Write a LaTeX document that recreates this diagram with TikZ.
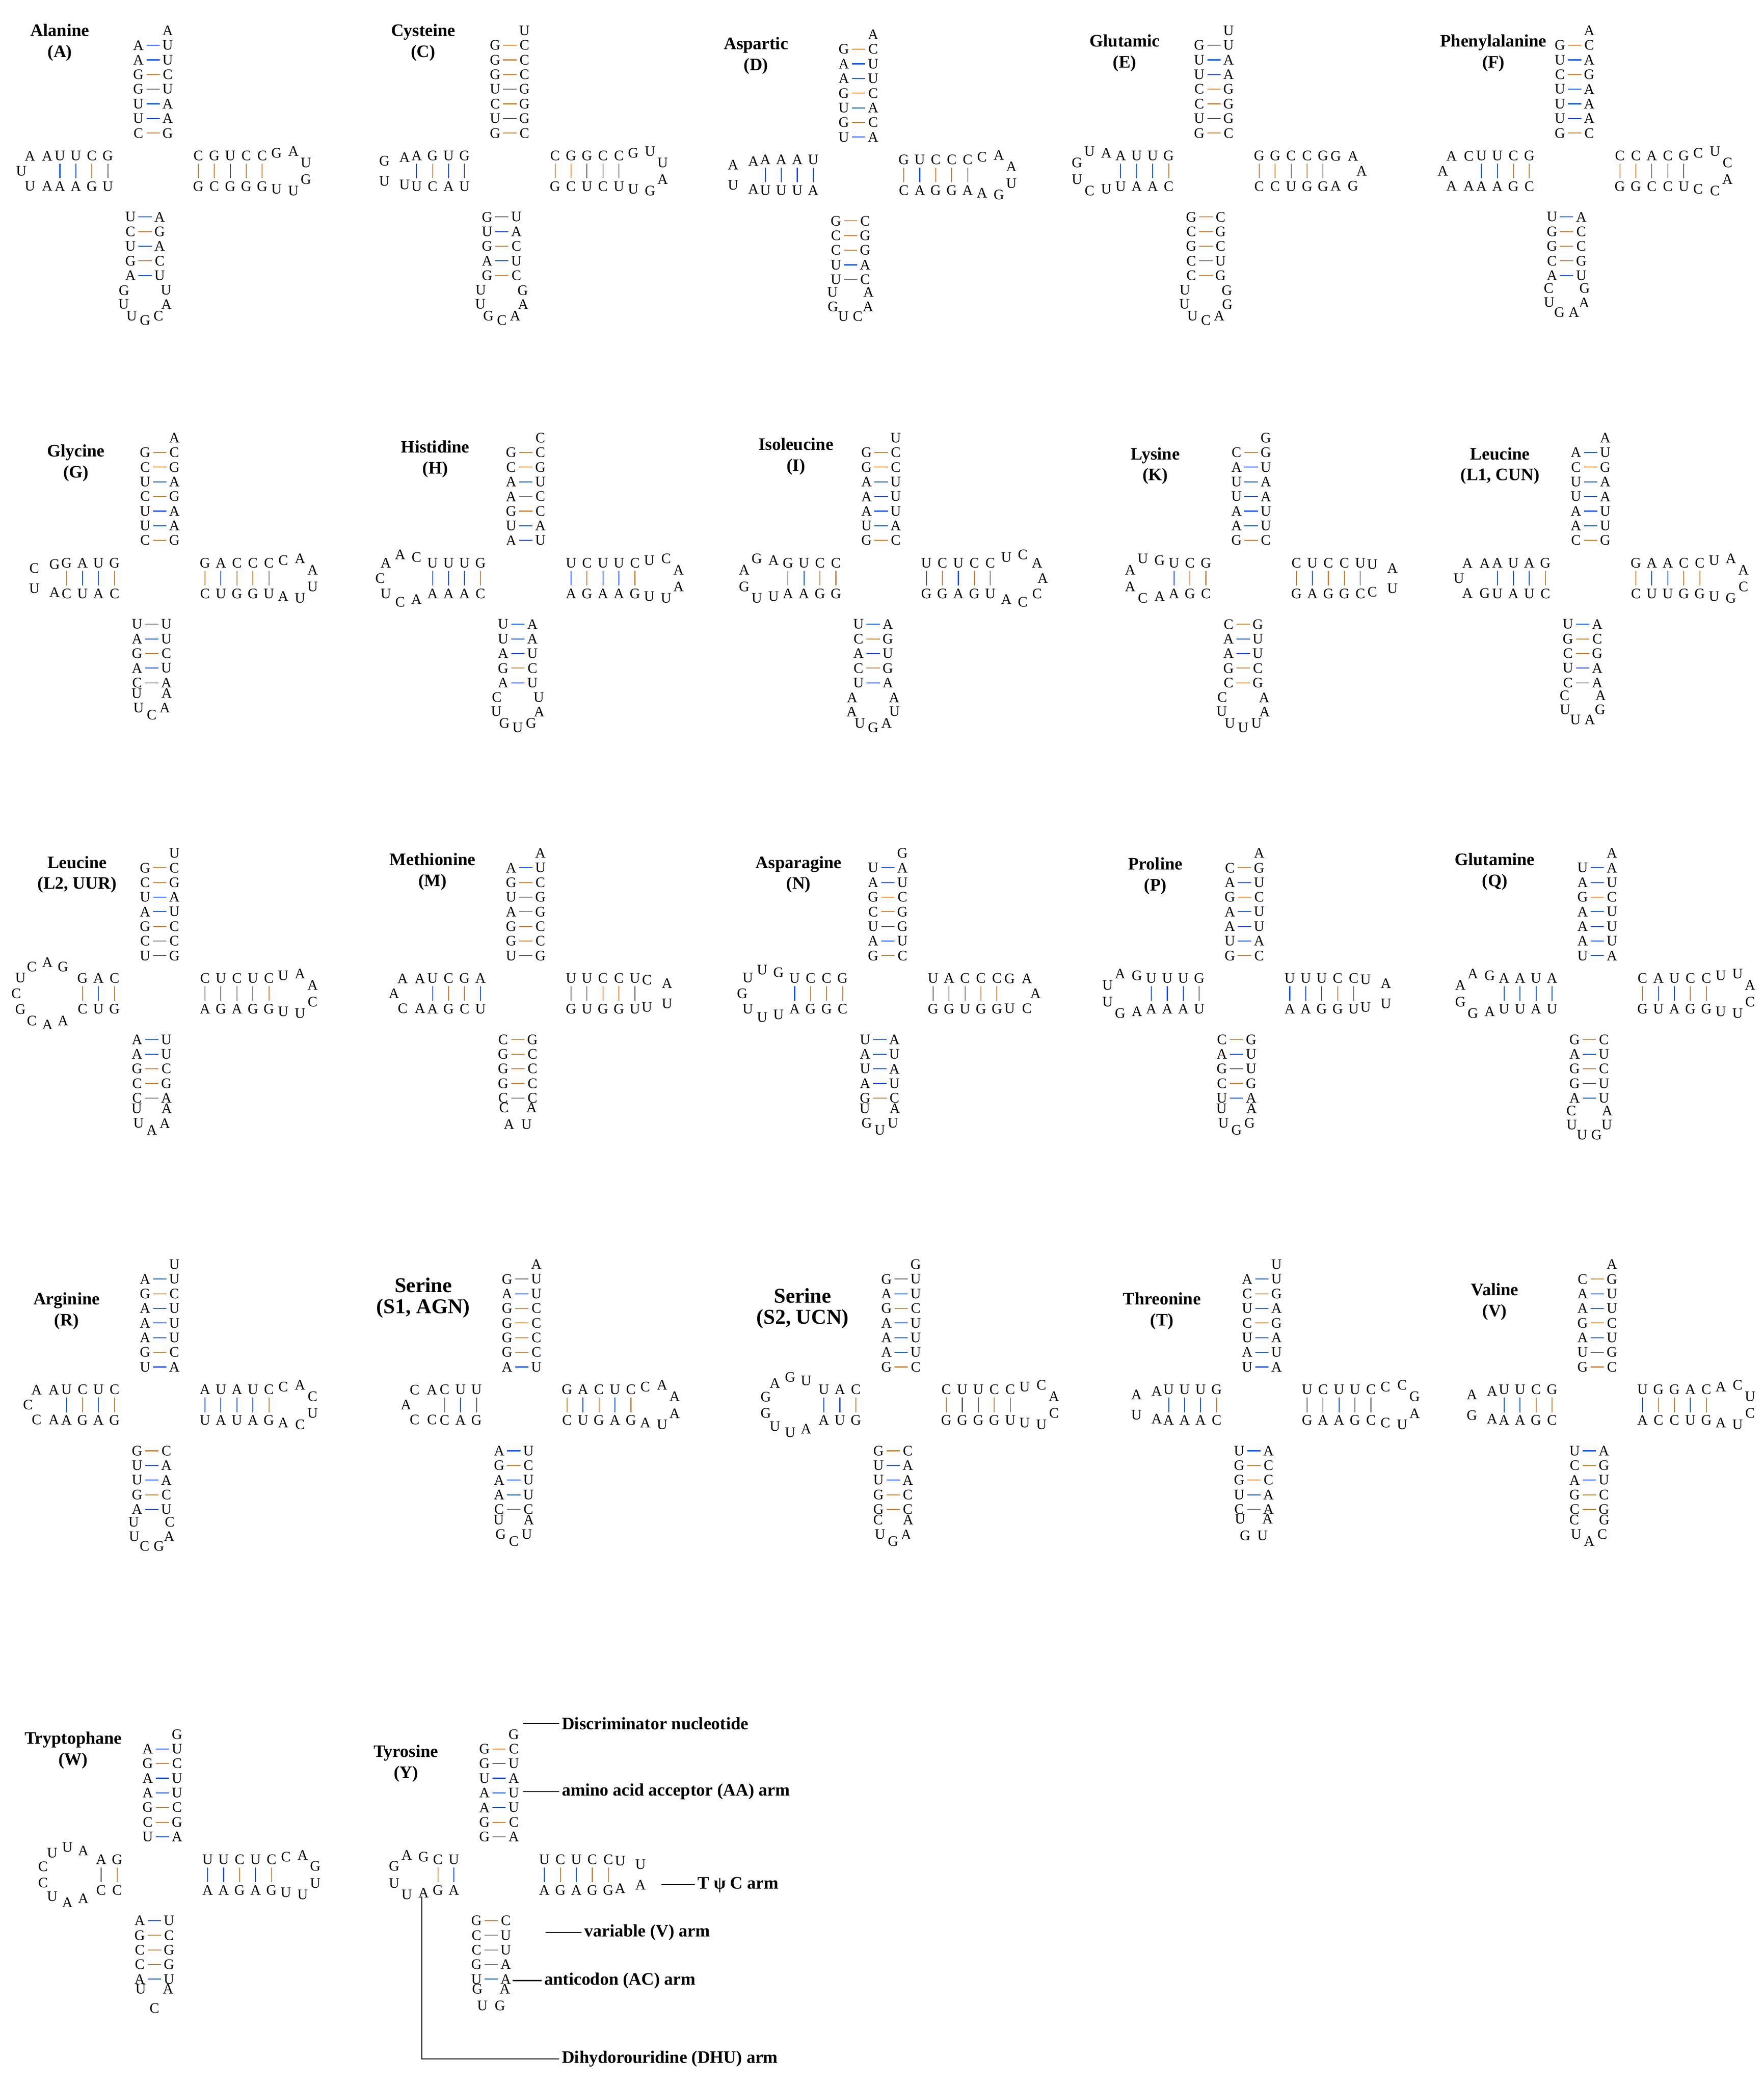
\documentclass[tikz,border=0pt]{standalone}
\usepackage{fontspec}
\setmainfont{Liberation Serif}
\usetikzlibrary{positioning}

\tikzset{
  pAA/.style={draw=gray}, pAC/.style={draw=gray}, pAG/.style={draw=gray}, pAU/.style={draw=blue!70!cyan},
  pCA/.style={draw=gray}, pCC/.style={draw=gray}, pCG/.style={draw=brown!80!orange}, pCU/.style={draw=gray},
  pGA/.style={draw=gray}, pGC/.style={draw=brown!80!orange}, pGG/.style={draw=gray}, pGU/.style={draw=gray!70!black},
  pUA/.style={draw=blue!70!cyan}, pUC/.style={draw=gray}, pUG/.style={draw=gray!70!black}, pUU/.style={draw=gray}
}

% #1 junction, #2 discriminator, #3 acceptor pairs, #4 D stem, #5 D loop,
% #6 anticodon stem, #7 anticodon loop, #8 T stem, #9 T loop
\newcommand\trna[9]{%
\begin{scope}[shift={#1}]
  \node[nt] at (11,-89) {#2};
  % acceptor arm
  \foreach \lt/\rt [count=\k] in {#3} {
    \pgfmathsetmacro\yy{-12-11*(7-\k)}
    \node[nt] at (-11,\yy) {\lt};
    \node[nt] at (11,\yy) {\rt};
    \draw[bp,p\lt\rt] (-5,\yy) -- (5,\yy);
  }
  % D arm
  \foreach \lt/\rt [count=\j] in {#4} {
    \node[nt] at (-22-12*\j,5) {\lt};
    \node[nt] at (-22-12*\j,28) {\rt};
    \draw[bp,p\lt\rt] (-22-12*\j,11) -- (-22-12*\j,22);
    \xdef\nD{\j}
  }
  \foreach \c [count=\k] in {#5} {\xdef\nL{\k}}
  \pgfmathsetmacro\rr{max(12,2.6*\nL)}
  \foreach \c [count=\k] in {#5} {
    \pgfmathsetmacro\a{-60-240*(\k-1)/(\nL-1)}
    \path (-22-12*\nD-\rr-3,16.5) ++(\a:\rr) node[nt] {\c};
  }
  % anticodon arm
  \foreach \lt/\rt [count=\j] in {#6} {
    \pgfmathsetmacro\yy{51+11*(\j-1)}
    \node[nt] at (-17,\yy) {\lt};
    \node[nt] at (5,\yy) {\rt};
    \draw[bp,p\lt\rt] (-11,\yy) -- (-1,\yy);
    \xdef\nA{\j}
  }
  \foreach \c [count=\k] in {#7} {\xdef\nL{\k}}
  \pgfmathsetmacro\rr{max(11,2.4*\nL)}
  \foreach \c [count=\k] in {#7} {
    \pgfmathsetmacro\a{200-220*(\k-1)/(\nL-1)}
    \path (-6,40+11*\nA+\rr) ++(\a:\rr) node[nt] {\c};
  }
  % T arm
  \foreach \lt/\rt [count=\j] in {#8} {
    \node[nt] at (22+12*\j,5) {\lt};
    \node[nt] at (22+12*\j,28) {\rt};
    \draw[bp,p\lt\rt] (22+12*\j,11) -- (22+12*\j,22);
    \xdef\nT{\j}
  }
  \foreach \c [count=\k] in {#9} {\xdef\nL{\k}}
  \pgfmathsetmacro\rr{max(12,2.6*\nL)}
  \foreach \c [count=\k] in {#9} {
    \pgfmathsetmacro\a{-120+240*(\k-1)/(\nL-1)}
    \path (22+12*\nT+\rr+3,16.5) ++(\a:\rr) node[nt] {\c};
  }
\end{scope}}

\begin{document}
\begin{tikzpicture}[x=0.02cm,y=-0.02cm,
  nt/.style={font=\fontsize{6.2}{6}\selectfont,inner sep=0pt},
  ttl/.style={font=\bfseries\fontsize{7.5}{9}\selectfont,align=center},
  lbl/.style={font=\bfseries\fontsize{7.5}{9}\selectfont,anchor=west,inner sep=1pt},
  bp/.style={line width=0.4pt}]
\useasboundingbox (0,0) rectangle (1325,1568);

% titles
\node[ttl] (ala) at (45,32) {Alanine\\(A)};
\node[ttl] (cys) at (318,32) {Cysteine\\(C)};
\node[ttl] (asp) at (568,42) {Aspartic\\(D)};
\node[ttl] (glu) at (845,40) {Glutamic\\(E)};
\node[ttl] (phe) at (1122,40) {Phenylalanine\\(F)};
\node[ttl] (gly) at (57,348) {Glycine\\(G)};
\node[ttl] (his) at (327,345) {Histidine\\(H)};
\node[ttl] (ile) at (598,343) {Isoleucine\\(I)};
\node[ttl] (lys) at (868,350) {Lysine\\(K)};
\node[ttl] (leu1) at (1127,350) {Leucine\\(L1, CUN)};
\node[ttl] (leu2) at (58,657) {Leucine\\(L2, UUR)};
\node[ttl] (met) at (325,655) {Methionine\\(M)};
\node[ttl] (asn) at (600,657) {Asparagine\\(N)};
\node[ttl] (pro) at (868,658) {Proline\\(P)};
\node[ttl] (gln) at (1123,655) {Glutamine\\(Q)};
\node[ttl] (arg) at (50,985) {Arginine\\(R)};
\node[ttl] (ser1) at (318,975) {\fontsize{9}{11}\selectfont Serine\\\fontsize{9}{11}\selectfont (S1, AGN)};
\node[ttl] (ser2) at (603,983) {\fontsize{9}{11}\selectfont Serine\\\fontsize{9}{11}\selectfont (S2, UCN)};
\node[ttl] (thr) at (873,985) {Threonine\\(T)};
\node[ttl] (val) at (1123,978) {Valine\\(V)};
\node[ttl] (trp) at (55,1315) {Tryptophane\\(W)};
\node[ttl] (tyr) at (305,1325) {Tyrosine\\(Y)};

% row 1
\trna{(115,112)}{A}{A/U,A/U,G/C,G/U,U/A,U/A,C/G}{G/U,C/G,U/A,U/A}{A,A,U,U,A}{U/A,C/G,U/A,G/C,A/U}{G,U,U,G,C,A,U}{C/G,G/C,U/G,C/G,C/G}{G,A,U,G,U,U}
\trna{(383,112)}{U}{G/C,G/C,G/C,U/G,C/G,U/G,G/C}{G/U,U/A,G/C,A/U}{A,G,U,U}{G/U,U/A,G/C,A/U,G/C}{U,U,G,C,A,A,G}{C/G,G/C,G/U,C/C,C/U}{G,U,U,A,G,U}
\trna{(645,115)}{A}{G/C,A/U,A/U,G/C,U/A,G/C,U/A}{U/A,A/U,A/U,A/U}{A,A,U,A}{G/C,C/G,C/G,U/A,U/C}{U,G,U,C,A,A}{G/C,U/A,C/G,C/G,C/A}{C,A,A,U,G,A}
\trna{(912,112)}{U}{G/U,U/A,U/A,C/G,C/G,U/G,G/C}{G/C,U/A,U/A,A/U}{A,U,G,U,C,U}{G/C,C/G,G/C,C/U,C/G}{U,U,U,C,A,G,G}{G/C,G/C,C/U,C/G,G/G}{G,A,A,G,A}
\trna{(1183,112)}{A}{G/C,U/A,C/G,U/A,U/A,U/A,G/C}{G/C,C/G,U/A,U/A}{C,A,A,A,A}{U/A,G/C,G/C,C/G,A/U}{C,U,G,A,A,G}{C/G,C/G,A/C,C/C,G/U}{C,U,C,A,C,C}
% row 2
\trna{(120,418)}{A}{G/C,C/G,U/A,C/G,U/A,U/A,C/G}{G/C,U/A,A/U,G/C}{G,C,U,A}{U/U,A/U,G/C,A/U,C/A}{U,U,C,A,A}{G/C,A/U,C/G,C/G,C/U}{C,A,A,U,U,A}
\trna{(395,418)}{C}{G/C,C/G,A/U,A/C,G/C,U/A,A/U}{G/C,U/A,U/A,U/A}{C,A,A,C,U,C,A}{U/A,U/A,A/U,G/C,A/U}{C,U,G,U,G,A,U}{U/A,C/G,U/A,U/A,C/G}{U,C,A,A,U,U}
\trna{(662,418)}{U}{G/C,G/C,A/U,A/U,A/U,U/A,G/C}{C/G,C/G,U/A,G/A}{A,G,A,G,U,U}{U/A,C/G,A/U,C/G,U/A}{A,A,U,G,A,U,A}{U/G,C/G,U/A,C/G,C/U}{U,C,A,A,C,C,A}
\trna{(940,418)}{G}{C/G,A/U,U/A,U/A,A/U,A/U,G/C}{G/C,C/G,U/A}{G,U,A,A,C,A}{C/G,A/U,A/U,G/C,C/G}{C,U,U,U,U,A,A}{C/G,U/A,C/G,C/G,U/C}{U,A,U,C}
\trna{(1195,418)}{A}{A/U,C/G,U/A,U/A,A/U,A/U,C/G}{G/C,A/U,U/A,A/U}{A,A,U,A,G}{U/A,G/C,C/G,U/A,C/A}{C,U,U,A,G,A}{G/C,A/U,A/U,C/G,C/G}{U,A,A,C,G,U}
% row 3
\trna{(120,730)}{U}{G/C,C/G,U/A,A/U,G/C,C/C,U/G}{C/G,A/U,G/C}{G,A,C,U,C,G,C,A,A}{A/U,A/U,G/C,C/G,C/A}{U,U,A,A,A}{C/A,U/G,C/A,U/G,C/G}{U,A,A,C,U,U}
\trna{(395,730)}{A}{A/U,G/C,U/G,A/G,G/C,G/C,U/G}{A/U,G/C,C/G,U/A}{A,A,A,C,A}{C/G,G/C,G/C,G/C,C/C}{C,A,U,A}{U/G,U/U,C/G,C/G,U/U}{C,A,U,U}
\trna{(667,730)}{G}{U/A,A/U,G/C,C/G,U/G,A/U,G/C}{G/C,C/G,C/G,U/A}{G,U,U,G,U,U,U}{U/A,A/U,U/A,A/U,G/C}{U,G,U,U,A}{U/G,A/G,C/U,C/G,C/G}{G,A,A,C,U}
\trna{(935,730)}{A}{C/G,A/U,G/C,A/U,A/U,U/A,G/C}{G/U,U/A,U/A,U/A}{G,A,U,U,G,A}{C/G,A/U,G/U,C/G,U/A}{U,U,G,G,A}{U/A,U/A,U/G,C/G,C/U}{U,A,U,U}
\trna{(1200,730)}{A}{U/A,A/U,G/C,A/U,A/U,A/U,U/A}{A/U,U/A,A/U,A/U}{G,A,A,G,G,A}{G/C,A/U,G/C,G/U,A/U}{C,U,U,G,U,A}{C/G,A/U,U/A,C/G,C/G}{U,U,A,C,U,U}
% row 4
\trna{(120,1039)}{U}{A/U,G/C,A/U,A/U,A/U,G/C,U/A}{C/G,U/A,C/G,U/A}{A,A,C,C,A}{G/C,U/A,U/A,G/C,A/U}{U,U,C,G,A,C}{A/U,U/A,A/U,U/A,C/G}{C,A,C,U,C,A}
\trna{(392,1039)}{A}{G/U,A/U,G/C,G/C,G/C,G/C,A/U}{U/G,U/A,C/C}{A,C,A,C,C}{A/U,G/C,A/U,A/U,C/C}{U,G,C,U,A}{G/C,A/U,C/G,U/A,C/G}{C,A,A,A,U,A}
\trna{(677,1039)}{G}{G/U,A/U,G/C,A/U,A/U,A/U,G/C}{C/G,A/U,U/A}{U,G,A,G,G,U,U,A}{G/C,U/A,U/A,G/C,G/C}{C,U,G,A,A}{C/G,U/G,U/G,C/G,C/U}{U,C,A,C,U,U}
\trna{(948,1039)}{U}{A/U,C/G,U/A,C/G,U/A,A/U,U/A}{G/C,U/A,U/A,U/A}{A,A,U,A}{U/A,G/C,G/C,U/A,C/A}{U,G,U,A}{U/G,C/A,U/A,U/G,C/C}{C,C,G,A,U,C}
\trna{(1200,1039)}{A}{C/G,A/U,A/U,G/C,A/U,U/G,G/C}{G/C,C/G,U/A,U/A}{A,A,G,A}{U/A,C/G,A/U,G/C,C/G}{C,U,A,C,G}{U/A,G/C,G/C,A/U,C/G}{A,C,U,C,U,A}
% row 5
\trna{(122,1392)}{G}{A/U,G/C,A/U,A/U,G/C,C/G,U/A}{G/C,A/C}{A,U,U,C,C,U,A,A}{A/U,G/C,C/G,C/G,A/U}{U,C,A}{U/A,U/A,C/G,U/A,C/G}{C,A,G,U,U,U}
\trna{(375,1392)}{G}{G/C,G/U,U/A,A/U,A/U,G/C,G/A}{U/A,C/G}{G,A,G,U,U,A}{G/C,C/U,C/U,G/A,U/A}{G,U,G,A}{U/A,C/G,U/A,C/G,C/G}{U,U,A,A}

% tyrosine labels
\coordinate (dpt) at (393,1295);
\coordinate (aapt) at (393,1346);
\coordinate (tpt) at (497,1416);
\coordinate (vpt) at (410,1452);
\coordinate (acpt) at (385,1488);
\coordinate (dhupt) at (317,1425);
\coordinate (dhucorner) at (317,1547);
\node[lbl] (ldisc) at (420,1295) {Discriminator nucleotide};
\node[lbl] (laa) at (420,1346) {amino acid acceptor (AA) arm};
\node[lbl] (lt) at (522,1416) {T ψ C arm};
\node[lbl] (lv) at (437,1452) {variable (V) arm};
\node[lbl] (lac) at (407,1488) {anticodon (AC) arm};
\node[lbl] (ldhu) at (420,1547) {Dihydorouridine (DHU) arm};
\draw (dpt) -- (ldisc.west);
\draw (aapt) -- (laa.west);
\draw (tpt) -- (lt.west);
\draw (vpt) -- (lv.west);
\draw (acpt) -- (lac.west);
\draw (dhupt) -- (dhucorner) -- (ldhu.west);
\end{tikzpicture}
\end{document}
